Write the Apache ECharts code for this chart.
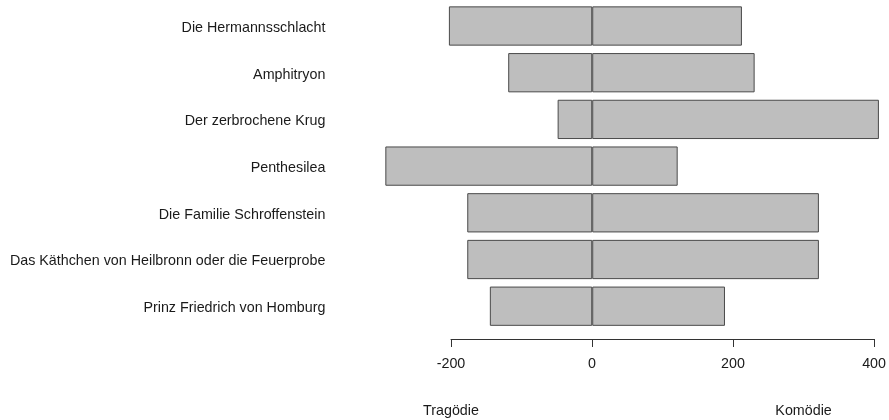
<!DOCTYPE html>
<html>
<head>
<meta charset="utf-8">
<script src="https://cdn.jsdelivr.net/npm/echarts@6/dist/echarts.min.js"></script>
<style>
html,body{margin:0;padding:0;background:#fff;}
#main{width:889px;height:420px;}
</style>
</head>
<body>
<div id="main"></div>
<script>
const categories = [
  'Die Hermannsschlacht',
  'Amphitryon',
  'Der zerbrochene Krug',
  'Penthesilea',
  'Die Familie Schroffenstein',
  'Das Käthchen von Heilbronn oder die Feuerprobe',
  'Prinz Friedrich von Homburg'
];
const tragoedie = [-203, -119, -49, -293, -177, -177, -145];
const komoedie = [212, 230, 406, 121, 321, 321, 188];
const tickValues = [-200, 0, 200, 400];
const sideLabels = [{text: 'Tragödie', value: -200}, {text: 'Komödie', value: 300}];

const FONT = '"Liberation Sans", Arial, sans-serif';
const FS = 14.3;
const chart = echarts.init(document.getElementById('main'), null, {renderer: 'canvas'});

const barStyle = {color: '#bebebe', borderColor: '#4a4a4a', borderWidth: 1};

chart.setOption({
  animation: false,
  backgroundColor: '#ffffff',
  grid: [
    {left: 380.4, width: 508.4, top: 2.65, height: 326.9, containLabel: false},
    {left: 451, width: 423.7, top: 300, height: 39, containLabel: false}
  ],
  xAxis: [
    {type: 'value', gridIndex: 0, min: -300, max: 420, show: false},
    {type: 'value', gridIndex: 1, min: tickValues[0], max: tickValues[tickValues.length - 1], interval: 200,
     position: 'bottom',
     axisLine: {show: true, lineStyle: {color: '#333', width: 1}},
     axisTick: {show: true, length: 8, lineStyle: {color: '#333', width: 1}},
     axisLabel: {show: true, margin: 18, color: '#1a1a1a', fontSize: FS, fontFamily: FONT,
                 showMinLabel: true, showMaxLabel: true},
     splitLine: {show: false}}
  ],
  yAxis: [
    {type: 'category', gridIndex: 0, data: categories, inverse: true,
     axisLine: {show: false}, axisTick: {show: false}, splitLine: {show: false},
     axisLabel: {margin: 55, color: '#1a1a1a', fontSize: FS, fontFamily: FONT,
                 verticalAlign: 'top', lineHeight: 4}},
    {type: 'value', gridIndex: 1, show: false}
  ],
  series: [
    {type: 'bar', name: 'Tragödie', xAxisIndex: 0, yAxisIndex: 0, data: tragoedie,
     barCategoryGap: '15.9%', barGap: '-100%', itemStyle: barStyle},
    {type: 'bar', name: 'Komödie', xAxisIndex: 0, yAxisIndex: 0, data: komoedie,
     barCategoryGap: '15.9%', barGap: '-100%', itemStyle: barStyle}
  ]
});

const graphics = sideLabels.map(function (d) {
  const x = chart.convertToPixel({xAxisIndex: 1}, d.value);
  return {type: 'text', x: x, y: 411,
          style: {text: d.text, fill: '#1a1a1a', font: FS + 'px ' + FONT, textAlign: 'center', textVerticalAlign: 'middle'}};
});
chart.setOption({graphic: graphics});
</script>
</body>
</html>
